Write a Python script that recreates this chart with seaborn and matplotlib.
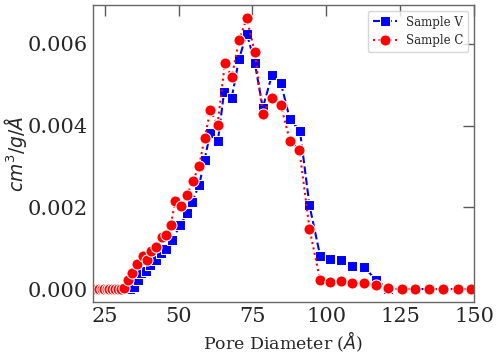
import numpy as np
import pandas as pd
import seaborn as sns
import matplotlib
matplotlib.use("Agg")
import matplotlib.pyplot as plt

# Sample V (blue squares, dashed)
v_diam = [21.6, 22.4, 23.2, 24.0, 24.8, 25.7, 26.6, 27.5, 28.5, 29.5, 30.4, 31.4,
          32.6, 33.7, 34.8, 36.3, 37.3, 39.1, 40.4, 42.4, 44.1, 45.8, 47.8, 50.6,
          52.8, 54.6, 57.0, 58.8, 60.7, 63.3, 65.4, 68.0, 70.5, 73.1, 75.8, 78.5,
          81.6, 84.6, 87.7, 91.1, 94.3, 97.9, 101.4, 105.0, 108.8, 112.8, 116.8,
          121.0, 125.5, 130.0, 134.8, 139.5, 144.6, 149.1]
v_vol = [0, 0, 0, 0, 0, 0, 0, 0, 0, 0, 0, 0,
         0, 0, 0.00006, 0.00022, 0.00038, 0.00044, 0.00059, 0.00071, 0.00087, 0.00097, 0.00120, 0.00156,
         0.00185, 0.00214, 0.00255, 0.00315, 0.00382, 0.00361, 0.00481, 0.00468, 0.00564, 0.00625, 0.00554, 0.00443,
         0.00523, 0.00505, 0.00415, 0.00387, 0.00205, 0.00082, 0.00074, 0.00071, 0.00057, 0.00054, 0.00022,
         0, 0, 0, 0, 0, 0, 0]

# Sample C (red circles, dotted)
c_diam = [21.6, 22.4, 23.2, 24.0, 24.8, 25.7, 26.6, 27.5, 28.5, 29.5, 30.4, 31.4,
          32.8, 34.3, 35.8, 38.0, 39.3, 40.7, 42.3, 44.3, 45.8, 47.4, 48.9, 50.9,
          52.8, 54.9, 57.0, 58.8, 60.8, 63.2, 65.7, 68.0, 70.5, 73.1, 75.8, 78.5,
          81.6, 84.6, 87.7, 90.9, 94.3, 97.9, 101.4, 105.0, 108.8, 112.8, 116.8,
          121.0, 125.5, 130.0, 134.8, 139.5, 144.6, 149.1]
c_vol = [0, 0, 0, 0, 0, 0, 0, 0, 0, 0, 0, 0.00002,
         0.00022, 0.00038, 0.00062, 0.00080, 0.00072, 0.00092, 0.00102, 0.00128, 0.00133, 0.00156, 0.00216, 0.00202,
         0.00229, 0.00265, 0.00302, 0.00369, 0.00437, 0.00402, 0.00554, 0.00518, 0.00610, 0.00662, 0.00579, 0.00429,
         0.00467, 0.00450, 0.00363, 0.00341, 0.00148, 0.00022, 0.00018, 0.00019, 0.00014, 0.00014, 0.00010,
         0.00002, 0, 0, 0, 0, 0, 0]

sns.set_style("white")
plt.rcParams["font.family"] = ["DejaVu Serif"]
plt.rcParams["mathtext.fontset"] = "dejavusans"

fig = plt.figure(figsize=(4.99, 3.55), dpi=100)
ax = fig.add_subplot(111)
fig.subplots_adjust(left=0.186, right=0.950, top=0.986, bottom=0.149)

sns.lineplot(x=v_diam, y=v_vol, ax=ax, color="blue", linestyle="--", marker="s",
             markersize=7, linewidth=1.5, label="Sample V")
sns.lineplot(x=c_diam, y=c_vol, ax=ax, color="red", linestyle=":", marker="o",
             markersize=8, linewidth=1.5, label="Sample C")

ax.set_xlim(21, 150)
ax.set_ylim(-0.00032, 0.00695)
ax.set_xticks([25, 50, 75, 100, 125, 150])
ax.set_yticks([0.000, 0.002, 0.004, 0.006])

ax.set_xlabel("Pore Diameter ($Å$)", fontsize=12.5, labelpad=3)
ax.set_ylabel("$cm^3/g/Å$", fontsize=13.5)
ax.yaxis.set_label_coords(-0.168, 0.5)

ax.tick_params(direction="in", top=True, right=True, length=8, width=1,
               color="0.35", labelsize=15)
for s in ax.spines.values():
    s.set_color("0.4")
    s.set_linewidth(1)

ax.legend(loc="upper right", fontsize=8.5)

plt.savefig("out.png", dpi=100)
